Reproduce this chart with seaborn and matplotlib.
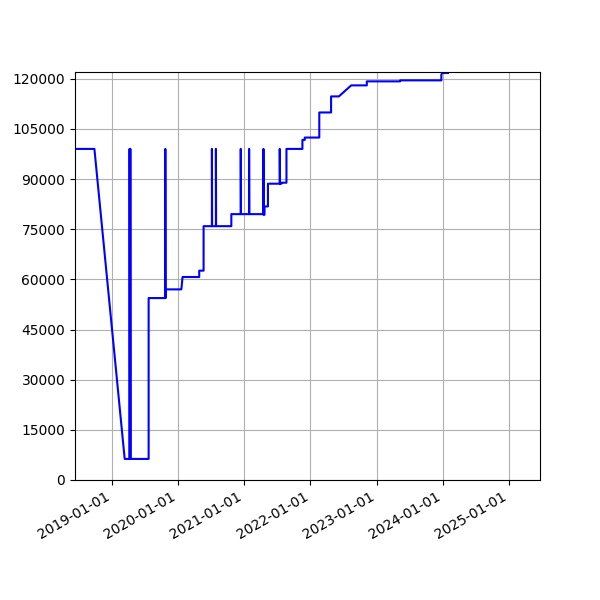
import pandas as pd
import seaborn as sns
import matplotlib
matplotlib.use("Agg")
import matplotlib.pyplot as plt
import matplotlib.dates as mdates
from matplotlib.ticker import MultipleLocator

# data (step changes written as paired points)
dates = [
    "2018-06-01", "2018-09-28", "2019-03-14",
    "2019-04-10", "2019-04-10", "2019-04-11",
    "2019-04-14", "2019-04-14", "2019-04-15",
    "2019-07-24", "2019-07-24",
    "2019-10-24", "2019-10-24", "2019-10-25", "2019-10-28",
    "2020-01-20", "2020-01-22", "2020-01-27",
    "2020-04-28", "2020-04-28", "2020-05-22", "2020-05-22",
    "2020-07-07", "2020-07-07", "2020-07-08",
    "2020-07-29", "2020-07-29", "2020-07-30",
    "2020-10-22", "2020-10-22",
    "2020-12-13", "2020-12-13", "2020-12-14",
    "2021-01-28", "2021-01-28", "2021-01-29",
    "2021-04-17", "2021-04-17", "2021-04-18",
    "2021-04-23", "2021-04-23",
    "2021-05-12", "2021-05-12",
    "2021-07-16", "2021-07-16", "2021-07-17",
    "2021-07-25", "2021-07-25",
    "2021-08-22", "2021-08-22",
    "2021-11-18", "2021-11-18", "2021-12-01", "2021-12-01",
    "2022-02-19", "2022-02-19", "2022-04-25", "2022-04-25",
    "2022-06-07", "2022-08-14",
    "2022-11-08", "2022-11-08",
    "2023-05-11", "2023-05-11",
    "2023-12-24", "2023-12-24", "2023-12-28", "2024-01-30",
]
values = [
    99000, 99000, 6300,
    6300, 99000, 6300,
    6300, 99000, 6300,
    6300, 54400,
    54400, 99000, 54400, 57000,
    57000, 57800, 60700,
    60700, 62600, 62600, 75900,
    75900, 99000, 75900,
    75900, 99000, 75900,
    75900, 79500,
    79500, 99000, 79500,
    79500, 99000, 79500,
    79500, 99000, 79300,
    79300, 81800,
    81800, 88600,
    88600, 99000, 88600,
    88600, 88900,
    88900, 99000,
    99000, 101700, 101700, 102400,
    102400, 109900, 109900, 114700,
    114700, 118000,
    118000, 119200,
    119200, 119500,
    119500, 121200, 121700, 121700,
]

df = pd.DataFrame({"date": pd.to_datetime(dates), "value": values})

fig = plt.figure(figsize=(6, 6), dpi=100)
ax = fig.add_subplot(111)
sns.lineplot(data=df, x="date", y="value", color="blue", linewidth=1.5,
             sort=False, estimator=None, ax=ax)
ax.set_xlabel("")
ax.set_ylabel("")
ax.set_xlim(pd.Timestamp("2018-06-13"), pd.Timestamp("2025-06-20"))
ax.set_ylim(0, 122000)
ax.yaxis.set_major_locator(MultipleLocator(15000))
ax.xaxis.set_major_locator(mdates.YearLocator())
ax.xaxis.set_major_formatter(mdates.DateFormatter("%Y-%m-%d"))
ax.grid(True)
fig.autofmt_xdate()
fig.savefig("out.png", dpi=100)
